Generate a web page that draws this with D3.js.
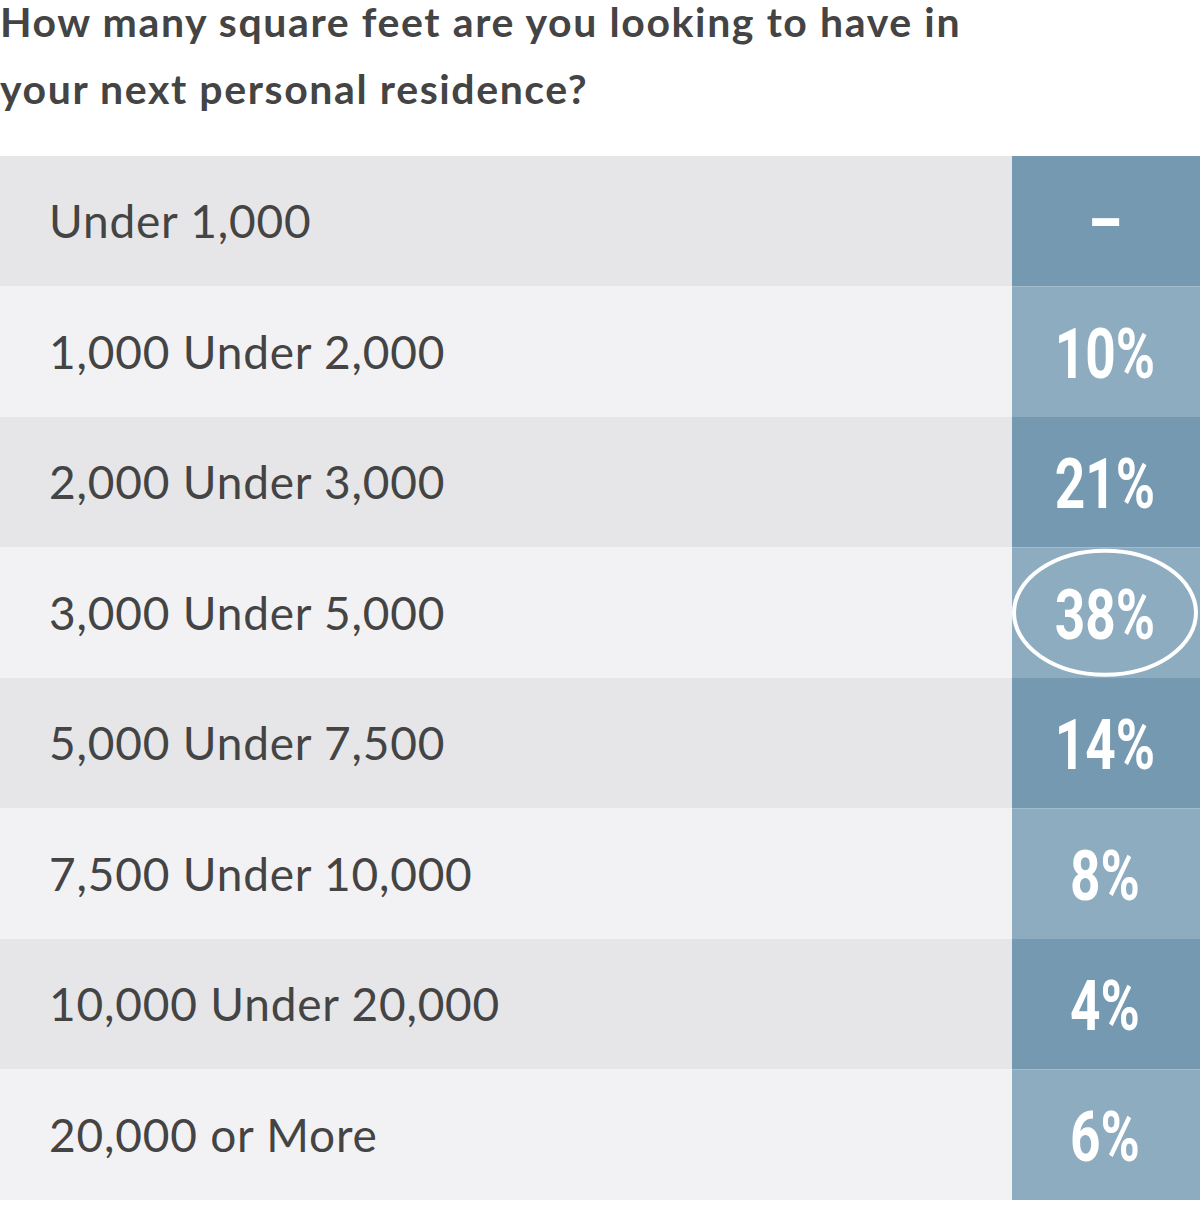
<!DOCTYPE html>
<html>
<head>
<meta charset="utf-8">
<script src="https://cdn.jsdelivr.net/npm/d3@7"></script>
<style>
  body { margin: 0; background: #fff; }
</style>
</head>
<body>
<svg id="svg" width="1200" height="1205"></svg>
<script>
const titleLines = ['How many square feet are you looking to have in', 'your next personal residence?'];
const categories = ['Under 1,000', '1,000 Under 2,000', '2,000 Under 3,000', '3,000 Under 5,000',
  '5,000 Under 7,500', '7,500 Under 10,000', '10,000 Under 20,000', '20,000 or More'];
const values = [null, 10, 21, 38, 14, 8, 4, 6];
const highlight = '3,000 Under 5,000';

const svg = d3.select('#svg');

svg.selectAll('text.title').
data(titleLines).
enter().
append('text').
attr('class', 'title').
attr('x', 0).
attr('y', (d, i) => 37 + i * 67).
attr('font-family', 'Lato, "Open Sans", sans-serif').
attr('font-weight', 700).
attr('font-size', 41).
attr('letter-spacing', 1.6).
attr('fill', '#444').
text(d => d);

const y = d3.scaleBand().domain(categories).range([156, 1200]);
const x = d3.scaleLinear().domain([0, 1]).range([0, 1200]);
const split = 1012;

const rows = svg.selectAll('g.row').
data(categories).
enter().
append('g').
attr('class', 'row').
attr('transform', d => `translate(0,${y(d)})`);

rows.append('rect').
attr('x', x(0)).
attr('width', split).
attr('height', y.bandwidth()).
attr('fill', (d, i) => i % 2 ? '#f2f2f4' : '#e6e6e8');

rows.append('rect').
attr('x', split).
attr('width', x(1) - split).
attr('height', y.bandwidth()).
attr('fill', (d, i) => i % 2 ? '#8dacc0' : '#7499b0');

rows.append('text').
attr('x', 49).
attr('y', y.bandwidth() / 2 + 17).
attr('font-family', 'Lato, "Open Sans", sans-serif').
attr('font-size', 46).
attr('letter-spacing', 0.8).
attr('fill', '#444').
text(d => d);

rows.append('text').
attr('transform', `translate(1105,${y.bandwidth() / 2 + 26}) scale(0.76,1)`).
attr('text-anchor', 'middle').
attr('font-family', 'Roboto, sans-serif').
attr('font-weight', 700).
attr('font-size', 70).
attr('fill', '#fff').
text((d, i) => values[i] == null ? '–' : values[i] + '%');

svg.append('ellipse').
attr('cx', 1105).
attr('cy', y(highlight) + y.bandwidth() / 2).
attr('rx', 91).
attr('ry', 62).
attr('fill', 'none').
attr('stroke', '#fff').
attr('stroke-width', 4);
</script>
</body>
</html>
